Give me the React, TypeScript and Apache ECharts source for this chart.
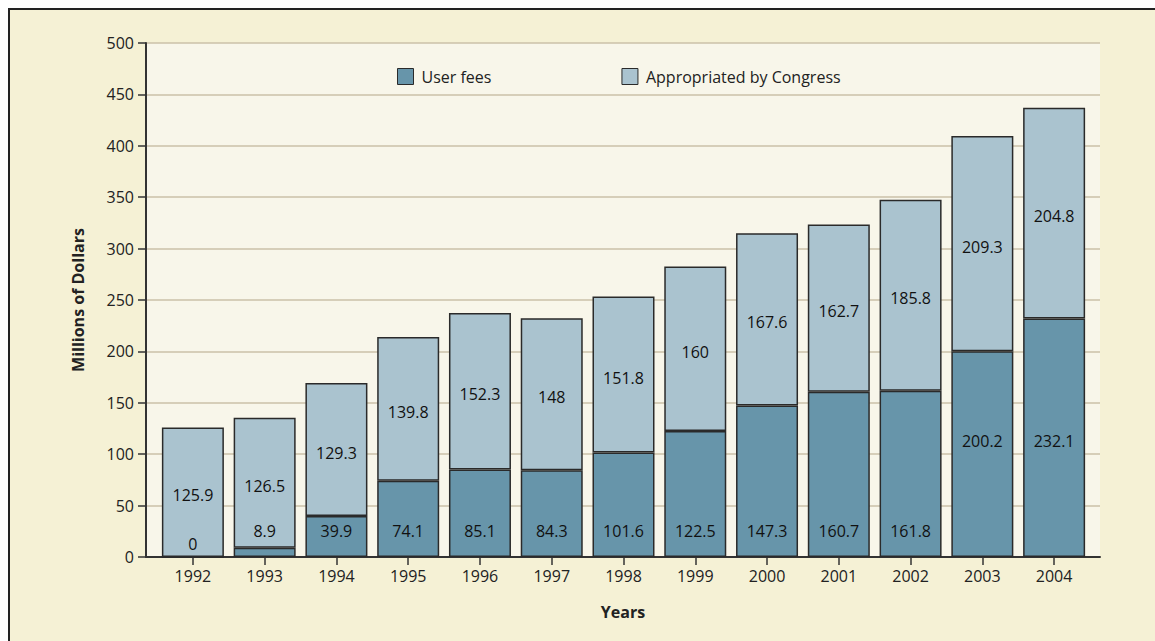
import React, { useEffect, useRef } from "react";
import * as echarts from "echarts";

const years = ["1992", "1993", "1994", "1995", "1996", "1997", "1998", "1999", "2000", "2001", "2002", "2003", "2004"];
const userFees = [0, 8.9, 39.9, 74.1, 85.1, 84.3, 101.6, 122.5, 147.3, 160.7, 161.8, 200.2, 232.1];
const appropriated = [125.9, 126.5, 129.3, 139.8, 152.3, 148, 151.8, 160, 167.6, 162.7, 185.8, 209.3, 204.8];
const yTicks = [0, 50, 100, 150, 200, 250, 300, 350, 400, 450, 500];

const FONT = "'Open Sans', 'Noto Sans', sans-serif";
const FS = 16;
const DARK = "#6795aa";
const LIGHT = "#aac3cf";
const EDGE = "#2a2a2a";
const TXT = "#222222";

export default function App() {
  const ref = useRef<HTMLDivElement>(null);
  useEffect(() => {
    if (!ref.current) return;
    const chart = echarts.init(ref.current, undefined, { renderer: "svg" });
    const feeData = userFees.map((v) => {
      const item: any = { value: v };
      if (v === 0) item.label = { offset: [0, 12] };
      else if (v > 190) item.label = { offset: [0, -90] };
      return item;
    });
    chart.setOption({
      animation: false,
      backgroundColor: "transparent",
      textStyle: { fontFamily: FONT },
      grid: [
        {
          left: 136,
          right: 55,
          top: 33,
          bottom: 84,
          show: true,
          backgroundColor: "#f8f6ea",
          borderWidth: 0,
        },
        {
          left: 147,
          right: 65,
          top: 33,
          bottom: 84,
          show: false,
        },
      ],
      legend: {
        left: 382,
        top: 53,
        itemWidth: 16,
        itemHeight: 16,
        itemGap: 130,
        icon: "rect",
        textStyle: { fontFamily: FONT, fontSize: FS, color: TXT, padding: [0, 0, 0, 3] },
        data: [
          { name: "User fees", itemStyle: { color: DARK, borderColor: EDGE, borderWidth: 1 } },
          { name: "Appropriated by Congress", itemStyle: { color: LIGHT, borderColor: EDGE, borderWidth: 1 } },
        ],
      },
      xAxis: [
        {
          gridIndex: 0,
          type: "value",
          min: 0,
          max: 1,
          name: "Years",
          nameLocation: "middle",
          nameGap: 47,
          nameTextStyle: { fontFamily: FONT, fontSize: FS, fontWeight: "bold", color: TXT },
          axisLine: { show: true, lineStyle: { color: "#333", width: 2 } },
          axisTick: { show: false },
          axisLabel: { show: false },
          splitLine: { show: false },
        },
        {
          gridIndex: 1,
          type: "category",
          data: years,
          axisLine: { show: false },
          axisTick: { show: true, alignWithLabel: true, length: 8, lineStyle: { color: "#333", width: 1.5 } },
          axisLabel: { fontFamily: FONT, fontSize: FS, color: TXT, margin: 11 },
        },
      ],
      yAxis: [
        {
          gridIndex: 0,
          type: "value",
          min: 0,
          max: 500,
          interval: 50,
          name: "Millions of Dollars",
          nameLocation: "middle",
          nameGap: 60,
          nameRotate: 90,
          nameTextStyle: { fontFamily: FONT, fontSize: FS, fontWeight: "bold", color: TXT },
          axisLine: { show: true, lineStyle: { color: "#333", width: 2 } },
          axisTick: { show: true, length: 8, lineStyle: { color: "#333", width: 1.5 } },
          axisLabel: {
            fontFamily: FONT,
            fontSize: FS,
            color: TXT,
            margin: 12,
            formatter: (v: number) => (yTicks.includes(v) ? String(v) : ""),
          },
          splitLine: { show: true, lineStyle: { color: "#cbc0a8", width: 1.5 } },
        },
        {
          gridIndex: 1,
          type: "value",
          min: 0,
          max: 500,
          interval: 50,
          show: false,
          splitLine: { show: false },
        },
      ],
      series: [
        {
          name: "User fees",
          type: "bar",
          xAxisIndex: 1,
          yAxisIndex: 1,
          stack: "total",
          barWidth: 62,
          data: feeData,
          itemStyle: { color: DARK, borderColor: EDGE, borderWidth: 1.5 },
          label: {
            show: true,
            position: "insideBottom",
            distance: 18,
            fontFamily: FONT,
            fontSize: FS,
            color: "#111",
          },
        },
        {
          name: "Appropriated by Congress",
          type: "bar",
          xAxisIndex: 1,
          yAxisIndex: 1,
          stack: "total",
          barWidth: 62,
          data: appropriated,
          itemStyle: { color: LIGHT, borderColor: EDGE, borderWidth: 1.5 },
          label: {
            show: true,
            position: "inside",
            offset: [0, 3],
            fontFamily: FONT,
            fontSize: FS,
            color: "#111",
          },
        },
      ],
    });
    return () => chart.dispose();
  }, []);
  return (
    <div
      style={{
        position: "fixed",
        left: 8,
        top: 8,
        width: 1147,
        height: 633,
        boxSizing: "border-box",
        borderTop: "2px solid #222",
        borderLeft: "2px solid #222",
        background: "#f5f1d5",
      }}
    >
      <div ref={ref} style={{ width: 1145, height: 631 }} />
    </div>
  );
}
